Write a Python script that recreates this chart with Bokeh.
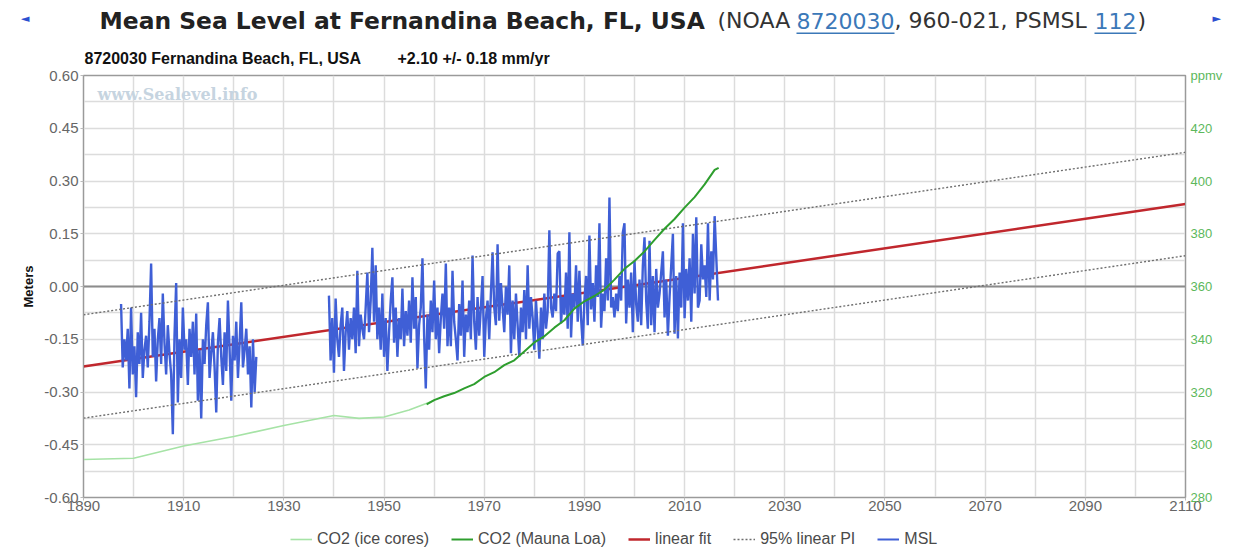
import numpy as np
from bokeh.plotting import figure
from bokeh.layouts import column
from bokeh.models import (Range1d, LinearAxis, FixedTicker, Label, Span, Legend,
                          LegendItem, NumeralTickFormatter, BoxAnnotation)
from bokeh.embed import file_html
from bokeh.resources import INLINE

# ---------------- data ----------------
X_TICKS = [1890, 1910, 1930, 1950, 1970, 1990, 2010, 2030, 2050, 2070, 2090, 2110]
Y_TICKS = [-0.60, -0.45, -0.30, -0.15, 0.00, 0.15, 0.30, 0.45, 0.60]
PPM_TICKS = [280, 300, 320, 340, 360, 380, 400, 420, 440]

# MSL (mm) at 3 samples per year
MSL_EARLY_START = 1897.5
MSL_EARLY_MM = [
    -50, -230, -150, -210, -120, -290, -60, -250, -170, -315, -130, -220,
    -75, -260, -180, -140, -230, -100, 65, -200, -120, -270, -150, -90,
    -220, -20, -160, -250, -110, -190, -250, -420, -140, 10, -330, -150,
    -260, -60, -180, -150, -280, -120, -200, -100, -250, -77, -325, -180,
    -375, -150, -220, -110, -45, -260, -190, -130, -230, -358, -160, -90,
    -200, -280, -130, -240, -40, -180, -325, -140, -210, -100, -260, -160,
    -45, -230, -180, -120, -250, -170, -344, -150, -300, -200,
]
MSL_LATE_START = 1939.0
MSL_LATE_MM = [
    -26, -210, -90, -245, -34, -150, -200, -110, -60, -240, -130, -70,
    -180, -90, -150, -60, -190, 45, -170, -80, -120, -150, -60, 40,
    -130, -40, 110, -100, 60, -150, -60, -180, -20, -200, -90, -240,
    -130, -40, 26, -160, -60, -200, -90, -150, -6, -170, -70, -140,
    -40, -160, 26, -120, -30, -233, -110, -60, 80, -140, -290, -80,
    -180, -40, -130, 17, -150, -60, -190, -90, -20, -120, 65, -170,
    -60, -170, 45, -100, -150, -210, -50, -140, 17, -200, -80, -130,
    -40, -150, 88, -100, -180, -30, -140, -60, 30, -200, -90, -40,
    -150, -20, 97, -60, -110, 120, -97, 10, -60, -130, 0, -80,
    60, -190, -40, -150, -20, -110, -200, -60, -130, -10, -150, 60,
    -120, -30, -90, -180, -40, -120, -205, -60, -150, -20, -120, -70,
    160, -60, -88, -20, -70, 94, 100, -105, -30, -80, 40, -120,
    154, -145, -20, -60, 60, -100, 45, -90, -168, -40, 30, -110,
    145, -65, 10, -100, 60, -30, 180, -117, -20, -70, 80, -40,
    253, -60, -30, -88, -20, -70, 30, -40, 154, 180, -105, 20,
    -60, 40, -130, 74, -50, -100, 20, -110, 60, 140, -40, -120,
    130, -110, 30, -130, 50, -60, -20, 40, 100, -88, 20, -140,
    -30, 60, 150, -134, 30, -148, 40, -60, 180, -90, 50, -40,
    80, -100, 150, -20, 197, -60, -40, 120, 20, 60, -30, 180,
    -40, 100, 20, 200, 80, -40,
]

# Linear fit: +2.10 mm/yr; zero-crossing year; 95% prediction interval half-width (m)
FIT_YEARS = [1890, 2110]
FIT_RATE_M_PER_YR = 0.0021
FIT_ZERO_YEAR = 1998.3
PI_HALF_WIDTH = 0.147

ICE_YEARS = [1890, 1900, 1910, 1920, 1930, 1940, 1945, 1950, 1955, 1960]
ICE_PPM = [294.4, 294.9, 299.5, 303.1, 307.3, 311.1, 310.0, 310.5, 313.2, 316.8]

ML_YEARS = [1958.5, 1960, 1962, 1964, 1966, 1968, 1970, 1972, 1974, 1976, 1978,
            1980, 1982, 1984, 1986, 1988, 1990, 1992, 1994, 1996, 1998, 2000,
            2002, 2004, 2006, 2008, 2010, 2012, 2014, 2016, 2016.8]
ML_PPM = [315.3, 316.9, 318.4, 319.6, 321.4, 323.0, 325.7, 327.5, 330.2, 332.0, 335.4,
          338.8, 341.1, 344.4, 347.2, 351.6, 354.4, 356.4, 358.8, 362.6, 366.7, 369.7,
          373.3, 377.7, 381.9, 385.6, 389.9, 393.9, 398.7, 404.2, 405.0]

TITLE_BOLD = "Mean Sea Level at Fernandina Beach, FL, USA"
SUBTITLE_1 = "8720030 Fernandina Beach, FL, USA"
SUBTITLE_2 = "+2.10 +/- 0.18 mm/yr"
WATERMARK = "www.Sealevel.info"
LEGEND_LABELS = ["CO2 (ice cores)", "CO2 (Mauna Loa)", "linear fit", "95% linear PI", "MSL"]

C_ICE, C_ML, C_FIT, C_PI, C_MSL = "#a6e3a6", "#2e9e2e", "#c0272d", "#6e6e6e", "#3f5fd6"
C_LINK, C_ARROW = "#3b78b8", "#2c4fd0"
W = 1236
HEADER_H = 66
FOOT_H = 27
FRAME_L, FRAME_R, FRAME_T, FRAME_B = 83, 1185, 75, 497   # plot frame, page px
TICK_FONT = "Liberation Sans"

# ---------------- header (title + subtitle); frame aligned with main frame ----------------
hd = figure(width=W, height=HEADER_H, x_range=Range1d(FRAME_L, FRAME_R),
            y_range=Range1d(HEADER_H, 0), output_backend="svg", toolbar_location=None,
            x_axis_type=None, y_axis_type=None,
            min_border_left=0, min_border_right=0, min_border_top=0, min_border_bottom=0,
            outline_line_color=None)
hd.xgrid.visible = False
hd.ygrid.visible = False

TITLE_Y = 20
hd.add_layout(Label(x=99, y=TITLE_Y, text=TITLE_BOLD, text_font="DejaVu Sans",
                    text_font_size="23.4px", text_font_style="bold", text_color="#222222",
                    text_baseline="middle"))
norm = dict(y=TITLE_Y, text_font="DejaVu Sans", text_font_size="22px", text_baseline="middle")
hd.add_layout(Label(x=717, text="(NOAA", text_color="#333333", **norm))
hd.add_layout(Label(x=796, text="8720030", text_color=C_LINK, **norm))
hd.add_layout(Label(x=894, text=", 960-021, PSMSL", text_color="#333333", **norm))
hd.add_layout(Label(x=1094, text="112", text_color=C_LINK, **norm))
hd.add_layout(Label(x=1137, text=")", text_color="#333333", **norm))
for a, b in [(796, 894), (1094, 1136)]:
    hd.add_layout(BoxAnnotation(left=a, right=b, top=32, bottom=33.5, fill_color=C_LINK,
                                fill_alpha=1, line_alpha=0))
sub = dict(y=58, text_font="Liberation Sans", text_font_size="16px", text_font_style="bold",
           text_color="#111111", text_baseline="middle")
hd.add_layout(Label(x=84, text=SUBTITLE_1, **sub))
hd.add_layout(Label(x=397, text=SUBTITLE_2, **sub))

# navigation arrows live in the header's side panels (outside its frame)
for side, sym, standoff in [("left", "\u25C4", 48), ("right", "\u25BA", 21)]:
    ax = LinearAxis(ticker=FixedTicker(ticks=[18]), major_label_overrides={18: sym})
    ax.axis_line_color = None
    ax.major_tick_line_color = None
    ax.minor_tick_line_color = None
    ax.major_label_standoff = standoff
    ax.major_label_text_color = C_ARROW
    ax.major_label_text_font = "DejaVu Sans"
    ax.major_label_text_font_size = "11px"
    hd.add_layout(ax, side)

# ---------------- main chart ----------------
p = figure(frame_width=FRAME_R - FRAME_L, frame_height=FRAME_B - FRAME_T,
           x_range=Range1d(1890, 2110), y_range=Range1d(-0.6, 0.6),
           output_backend="svg", toolbar_location=None,
           min_border_left=FRAME_L, min_border_right=W - FRAME_R,
           min_border_top=FRAME_T - HEADER_H, min_border_bottom=550 - FOOT_H - FRAME_B,
           background_fill_color="white", border_fill_color="white")
p.outline_line_color = "#9a9a9a"
p.outline_line_width = 1.5
p.extra_y_ranges = {"ppm": Range1d(280, 440)}

p.xaxis.ticker = FixedTicker(ticks=X_TICKS)
p.yaxis.ticker = FixedTicker(ticks=Y_TICKS)
p.yaxis.formatter = NumeralTickFormatter(format="0.00")
for ax in (p.xaxis[0], p.yaxis[0]):
    ax.major_label_text_font = TICK_FONT
    ax.major_label_text_font_size = "15px"
    ax.major_label_text_color = "#666666"
    ax.axis_line_color = "#9a9a9a"
    ax.major_tick_line_color = "#bbbbbb"
    ax.major_tick_out = 3
    ax.major_tick_in = 0
    ax.minor_tick_line_color = None
p.xaxis.major_label_standoff = 0
p.yaxis.major_label_standoff = 2
p.yaxis.axis_label = "Meters"
p.yaxis.axis_label_text_font = TICK_FONT
p.yaxis.axis_label_text_font_style = "bold"
p.yaxis.axis_label_text_font_size = "13px"
p.yaxis.axis_label_text_color = "#111111"
p.yaxis.axis_label_standoff = 5

right = LinearAxis(y_range_name="ppm", ticker=FixedTicker(ticks=PPM_TICKS),
                   major_label_overrides={440: "ppmv"})
right.major_label_text_font = TICK_FONT
right.major_label_text_font_size = "13px"
right.major_label_text_color = "#5cb85c"
right.axis_line_color = "#9a9a9a"
right.major_tick_line_color = None
right.major_tick_out = 0
right.major_tick_in = 0
right.minor_tick_line_color = None
right.major_label_standoff = 5
p.add_layout(right, "right")

p.xgrid.ticker = FixedTicker(ticks=list(range(1890, 2111, 10)))
p.ygrid.ticker = FixedTicker(ticks=[round(-0.6 + 0.075 * i, 3) for i in range(17)])
for g in (p.xgrid[0], p.ygrid[0]):
    g.grid_line_color = "#dcdcdc"
    g.grid_line_width = 1.5

p.add_layout(Span(location=0, dimension="width", line_color="#8c8c8c", line_width=2,
                  level="underlay"))

fit_x = np.array(FIT_YEARS, dtype=float)
fit_y = FIT_RATE_M_PER_YR * (fit_x - FIT_ZERO_YEAR)

p.line(ICE_YEARS, ICE_PPM, y_range_name="ppm", line_color=C_ICE, line_width=1.6)
p.line(fit_x, fit_y, line_color=C_FIT, line_width=2.5)
t1 = MSL_EARLY_START + np.arange(len(MSL_EARLY_MM)) / 3.0
t2 = MSL_LATE_START + np.arange(len(MSL_LATE_MM)) / 3.0
p.line(t1, np.array(MSL_EARLY_MM) / 1000.0, line_color=C_MSL, line_width=2.4)
p.line(t2, np.array(MSL_LATE_MM) / 1000.0, line_color=C_MSL, line_width=2.4)
p.line(fit_x, fit_y + PI_HALF_WIDTH, line_color=C_PI, line_width=1.4, line_dash="2 2")
p.line(fit_x, fit_y - PI_HALF_WIDTH, line_color=C_PI, line_width=1.4, line_dash="2 2")
p.line(ML_YEARS, ML_PPM, y_range_name="ppm", line_color=C_ML, line_width=2)

# watermark, in screen px relative to the frame's bottom-left
p.add_layout(Label(x=97 - FRAME_L, y=FRAME_B - 94, x_units="screen", y_units="screen",
                   text=WATERMARK, text_font="DejaVu Serif", text_font_size="16px",
                   text_font_style="bold", text_color="#c6d4e0", text_baseline="middle"))

# ---------------- footer (legend); frame aligned with main frame ----------------
ft = figure(width=W, height=FOOT_H, x_range=Range1d(0, 1), y_range=Range1d(0, 1),
            output_backend="svg", toolbar_location=None, x_axis_type=None, y_axis_type=None,
            min_border_left=0, min_border_right=0, min_border_top=0, min_border_bottom=0,
            outline_line_color=None)
ft.xgrid.visible = False
ft.ygrid.visible = False
styles = [dict(line_color=C_ICE, line_width=1.6), dict(line_color=C_ML, line_width=2),
          dict(line_color=C_FIT, line_width=2.5),
          dict(line_color=C_PI, line_width=1.4, line_dash="2 2"),
          dict(line_color=C_MSL, line_width=2)]
items = []
for lbl, st in zip(LEGEND_LABELS, styles):
    r = ft.line(x=[np.nan], y=[np.nan], **st)   # legend proxy, draws nothing in the frame
    items.append(LegendItem(label=lbl, renderers=[r]))
legend = Legend(items=items, orientation="horizontal", location=(290 - FRAME_L, 2),
                border_line_alpha=0, background_fill_alpha=0, label_text_font=TICK_FONT,
                label_text_font_size="16px", label_text_color="#4a4a4a", glyph_width=22,
                glyph_height=12, spacing=22, label_standoff=5, padding=0, margin=0,
                label_height=16)
ft.add_layout(legend)

layout = column(hd, p, ft, spacing=0)
open("out.html", "w").write(file_html(layout, INLINE))
